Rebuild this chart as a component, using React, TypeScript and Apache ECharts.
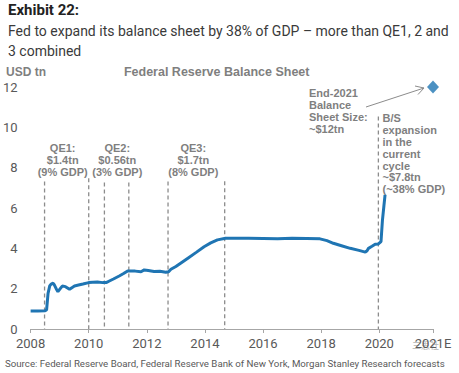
import React, { useEffect, useRef } from "react";
import * as echarts from "echarts";

// Fed balance sheet (USD tn), x = fractional year
const years = [
  2008.0, 2008.25, 2008.5, 2008.55, 2008.6, 2008.66, 2008.71, 2008.77, 2008.82, 2008.88, 2008.94,
  2009.02, 2009.09, 2009.2, 2009.34, 2009.42, 2009.51, 2009.65, 2009.8, 2010.0, 2010.14, 2010.3,
  2010.48, 2010.6, 2010.71, 2010.85, 2011.05, 2011.2, 2011.34, 2011.6, 2011.8, 2011.91, 2012.05,
  2012.25, 2012.45, 2012.65, 2012.75, 2012.83, 2013.0, 2013.2, 2013.4, 2013.7, 2013.97, 2014.2,
  2014.43, 2014.71, 2015.0, 2015.5, 2016.0, 2016.5, 2017.0, 2017.5, 2017.96, 2018.2, 2018.42,
  2018.7, 2019.0, 2019.3, 2019.52, 2019.58, 2019.63, 2019.75, 2019.86, 2019.97, 2020.06, 2020.11,
  2020.16, 2020.2,
];
const balance = [
  0.89, 0.89, 0.9, 0.95, 1.77, 2.15, 2.23, 2.27, 2.18, 2.0, 1.85,
  2.0, 2.13, 2.1, 1.97, 2.05, 2.13, 2.18, 2.23, 2.3, 2.32, 2.33,
  2.3, 2.3, 2.38, 2.48, 2.63, 2.75, 2.88, 2.87, 2.84, 2.93, 2.9,
  2.85, 2.86, 2.81, 2.84, 2.96, 3.1, 3.3, 3.5, 3.8, 4.08, 4.27,
  4.42, 4.5, 4.5, 4.5, 4.49, 4.48, 4.5, 4.49, 4.47, 4.38, 4.25,
  4.13, 4.0, 3.9, 3.81, 3.88, 4.0, 4.1, 4.2, 4.22, 4.33, 5.4,
  6.1, 6.65,
];

// End-2021 forecast
const forecastYear = 2021.85;
const forecastValue = 12;

// Programme boundaries (year, dashed line top in USD tn)
const markerYears = [2008.48, 2010.0, 2010.54, 2011.38, 2012.73, 2014.68, 2019.97, 2022.1];
const markerTops = [7.31, 7.48, 7.26, 7.26, 7.31, 7.33, 10.54, 12.95];

const xTicks = [2008, 2010, 2012, 2014, 2016, 2018, 2020];
const lastTickLabel = "2021E";

const qeLabels = [
  { text: "QE1:\n$1.4tn\n(9% GDP)", x: 62.7 },
  { text: "QE2:\n$0.56tn\n(3% GDP)", x: 117.3 },
  { text: "QE3:\n$1.7tn\n(8% GDP)", x: 193.3 },
];

const GRAY = "#7f7f7f";
const BLUE = "#1f75b3";

export default function App() {
  const ref = useRef<HTMLDivElement>(null);
  useEffect(() => {
    if (!ref.current) return;
    const chart = echarts.init(ref.current, undefined, { renderer: "svg" });
    const lineData = years.map((y, i) => [y, balance[i]]);
    const dashedSeries = markerYears.map((x, i) => ({
      type: "line",
      data: [
        [x, markerTops[i]],
        [x, 0],
      ],
      symbol: "none",
      clip: false,
      silent: true,
      lineStyle: { color: "#8c8c8c", width: 1.3, type: [4, 3] },
      z: 1,
    }));
    const annFont = {
      fontFamily: "Liberation Sans, Arial, sans-serif",
      fontSize: 11,
      fontWeight: "bold",
      fill: GRAY,
      lineHeight: 11.8,
    };
    chart.setOption({
      animation: false,
      grid: { left: 29.3, right: 26, top: 87, bottom: 44 },
      xAxis: {
        type: "value",
        min: 2008,
        max: forecastYear,
        interval: 2,
        axisLine: { lineStyle: { color: "#a6a6a6", width: 1 } },
        axisTick: { show: true, length: 4, lineStyle: { color: "#a6a6a6" } },
        splitLine: { show: false },
        axisLabel: {
          showMaxLabel: true,
          color: "#595959",
          fontSize: 13,
          fontFamily: "Roboto, sans-serif",
          margin: 8,
          formatter: (v: number) =>
            xTicks.includes(v) ? String(v) : Math.abs(v - forecastYear) < 0.01 ? lastTickLabel : "",
        },
      },
      yAxis: {
        type: "value",
        min: 0,
        max: 12,
        interval: 2,
        axisLine: { show: false },
        axisTick: { show: false },
        splitLine: { show: false },
        axisLabel: {
          color: "#595959",
          fontSize: 13,
          fontFamily: "Roboto, sans-serif",
          margin: 13,
        },
      },
      series: [
        ...dashedSeries,
        {
          type: "line",
          data: lineData,
          symbol: "none",
          lineStyle: { color: BLUE, width: 3 },
          z: 3,
        },
        {
          type: "scatter",
          data: [[forecastYear, forecastValue]],
          symbol: "diamond",
          symbolSize: [12, 13],
          itemStyle: { color: BLUE },
          clip: false,
          z: 4,
        },
      ],
      graphic: [
        {
          type: "text",
          left: 8,
          top: 2,
          style: {
            text: "Exhibit 22:",
            fontFamily: "Roboto, sans-serif",
            fontSize: 15,
            fontWeight: "bold",
            fill: "#222222",
          },
        },
        {
          type: "text",
          left: 8,
          top: 21,
          style: {
            text: "Fed to expand its balance sheet by 38% of GDP \u2013 more than QE1, 2 and\n3 combined",
            fontFamily: "Roboto, sans-serif",
            fontSize: 14,
            lineHeight: 20,
            fill: "#3a3a3a",
          },
        },
        {
          type: "text",
          left: 6,
          top: 66,
          style: { text: "USD tn", ...annFont, fontSize: 12 },
        },
        {
          type: "text",
          x: 216.7,
          y: 66,
          style: { text: "Federal Reserve Balance Sheet", ...annFont, fontSize: 12.5, align: "center" },
        },
        ...qeLabels.map((q) => ({
          type: "text",
          x: q.x,
          y: 142,
          style: { text: q.text, ...annFont, align: "center" },
        })),
        {
          type: "text",
          x: 309,
          y: 87.5,
          style: { text: "End-2021\nBalance\nSheet Size:\n~$12tn", ...annFont },
        },
        {
          type: "text",
          x: 382.5,
          y: 112.5,
          style: {
            text: "B/S\nexpansion\nin the\ncurrent\ncycle\n~$7.8tn\n(~38% GDP)",
            ...annFont,
          },
        },
        {
          type: "line",
          shape: { x1: 366, y1: 107, x2: 424, y2: 88 },
          style: { stroke: "#8c8c8c", lineWidth: 1 },
        },
        {
          type: "polyline",
          shape: { points: [[415, 86], [424, 88], [418, 94.5]] },
          style: { stroke: "#8c8c8c", lineWidth: 1, fill: "none" },
        },
        {
          type: "text",
          left: 5,
          top: 358,
          style: {
            text: "Source: Federal Reserve Board, Federal Reserve Bank of New York, Morgan Stanley Research forecasts",
            fontFamily: "Roboto, sans-serif",
            fontSize: 9.7,
            fill: "#595959",
          },
        },
        {
          type: "text",
          x: 412,
          y: 341,
          style: {
            text: "三思社",
            fontFamily: "Noto Sans CJK SC, sans-serif",
            fontSize: 9,
            fill: "#a0a0a0",
            opacity: 0.8,
          },
        },
      ],
    });
    return () => chart.dispose();
  }, []);
  return (
    <div
      ref={ref}
      style={{ position: "fixed", left: 0, top: 0, width: 459, height: 373, background: "#fff" }}
    />
  );
}
